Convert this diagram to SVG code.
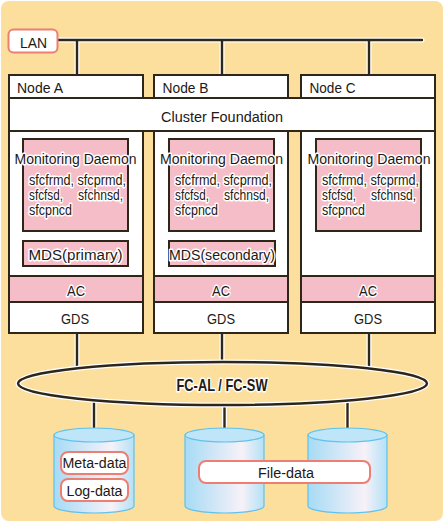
<svg xmlns="http://www.w3.org/2000/svg" width="444" height="522" viewBox="0 0 444 522">
<defs>
<linearGradient id="cyl" x1="0" y1="0" x2="1" y2="0">
<stop offset="0" stop-color="#A6DBF5"/>
<stop offset="0.72" stop-color="#F7F1F8"/>
<stop offset="1" stop-color="#B3E1F6"/>
</linearGradient>
<style>
.t{font-family:"Liberation Sans",Arial,sans-serif;font-size:15.5px;fill:#231815}
.c{text-anchor:middle}
.s{font-size:14px}
.b{font-weight:bold;font-size:16.5px}
.halo{paint-order:stroke;stroke:#fff;stroke-width:3;stroke-linejoin:round}
.box{fill:#fff;stroke:#2E2618;stroke-width:2}
.pk{fill:#F5BDC8;stroke:#2E2618;stroke-width:2}
.wl{fill:none;stroke:#fff;stroke-width:5;stroke-linecap:round}
.dl{fill:none;stroke:#2E2618;stroke-width:2.4;stroke-linecap:round}
.tag{fill:#fff;stroke:#EC7F72;stroke-width:2}
.cb{fill:url(#cyl);stroke:#5EC2ED;stroke-width:1.2}
.ct{fill:#BFE6F8;stroke:#5EC2ED;stroke-width:1.2}
</style>
</defs>
<rect x="1" y="1" width="442" height="520" rx="8" fill="#FCDE9D"/>

<g id="connectors">
<path class="wl" d="M57,40 H422 M77,40 V75 M222,40 V75 M369,40 V75 M77,333 V368.4 M222,333 V362 M369,333 V368.2 M94,400.2 V428 M224.5,405 V428 M347.5,400.6 V428"/>
<path class="dl" d="M57,40 H422 M77,40 V75 M222,40 V75 M369,40 V75 M77,333 V368.4 M222,333 V362 M369,333 V368.2 M94,400.2 V428 M224.5,405 V428 M347.5,400.6 V428"/>
</g>

<g id="lan">
<rect class="tag" x="8.5" y="29.5" width="49" height="23" rx="5"/>
<text class="t c" x="33.5" y="47.5" textLength="27" lengthAdjust="spacingAndGlyphs">LAN</text>
</g>

<g id="nodeA">
<rect class="box" x="9" y="75" width="134" height="258"/>
<text class="t" x="17" y="93" textLength="46" lengthAdjust="spacingAndGlyphs">Node A</text>
<rect class="pk" x="23" y="139" width="105" height="92"/>
<text class="t c halo" x="75.5" y="164" textLength="122" lengthAdjust="spacingAndGlyphs">Monitoring Daemon</text>
<text class="t s halo" x="29" y="185" textLength="97" lengthAdjust="spacingAndGlyphs">sfcfrmd, sfcprmd,</text>
<text class="t s halo" x="29" y="200" textLength="34" lengthAdjust="spacingAndGlyphs">sfcfsd,</text>
<text class="t s halo" x="78" y="200" textLength="45" lengthAdjust="spacingAndGlyphs">sfchnsd,</text>
<text class="t s halo" x="29" y="215" textLength="43" lengthAdjust="spacingAndGlyphs">sfcpncd</text>
<rect class="pk" x="23" y="241" width="105" height="25"/>
<text class="t c halo" x="75.5" y="259.5" textLength="94" lengthAdjust="spacingAndGlyphs">MDS(primary)</text>
<rect class="pk" x="9" y="276" width="134" height="26"/>
<text class="t c halo" x="76" y="296" textLength="18" lengthAdjust="spacingAndGlyphs">AC</text>
<rect class="box" x="9" y="302" width="134" height="31"/>
<text class="t c" x="75" y="323.5" textLength="28" lengthAdjust="spacingAndGlyphs">GDS</text>
</g>

<g id="nodeB">
<rect class="box" x="154" y="75" width="134" height="258"/>
<text class="t" x="162.5" y="93" textLength="46" lengthAdjust="spacingAndGlyphs">Node B</text>
<rect class="pk" x="169" y="139" width="105" height="92"/>
<text class="t c halo" x="221.5" y="164" textLength="123" lengthAdjust="spacingAndGlyphs">Monitoring Daemon</text>
<text class="t s halo" x="175" y="185" textLength="97" lengthAdjust="spacingAndGlyphs">sfcfrmd, sfcprmd,</text>
<text class="t s halo" x="175" y="200" textLength="34" lengthAdjust="spacingAndGlyphs">sfcfsd,</text>
<text class="t s halo" x="224" y="200" textLength="45" lengthAdjust="spacingAndGlyphs">sfchnsd,</text>
<text class="t s halo" x="175" y="215" textLength="43" lengthAdjust="spacingAndGlyphs">sfcpncd</text>
<rect class="pk" x="169" y="241" width="106" height="25"/>
<text class="t c halo" x="222" y="259.5" textLength="106" lengthAdjust="spacingAndGlyphs">MDS(secondary)</text>
<rect class="pk" x="154" y="276" width="134" height="26"/>
<text class="t c halo" x="221" y="296" textLength="18" lengthAdjust="spacingAndGlyphs">AC</text>
<rect class="box" x="154" y="302" width="134" height="31"/>
<text class="t c" x="221" y="323.5" textLength="28" lengthAdjust="spacingAndGlyphs">GDS</text>
</g>

<g id="nodeC">
<rect class="box" x="301" y="75" width="134" height="258"/>
<text class="t" x="309.5" y="93" textLength="46" lengthAdjust="spacingAndGlyphs">Node C</text>
<rect class="pk" x="316" y="139" width="105" height="92"/>
<text class="t c halo" x="369" y="164" textLength="123" lengthAdjust="spacingAndGlyphs">Monitoring Daemon</text>
<text class="t s halo" x="322" y="185" textLength="97" lengthAdjust="spacingAndGlyphs">sfcfrmd, sfcprmd,</text>
<text class="t s halo" x="322" y="200" textLength="34" lengthAdjust="spacingAndGlyphs">sfcfsd,</text>
<text class="t s halo" x="371" y="200" textLength="45" lengthAdjust="spacingAndGlyphs">sfchnsd,</text>
<text class="t s halo" x="322" y="215" textLength="43" lengthAdjust="spacingAndGlyphs">sfcpncd</text>
<rect class="pk" x="301" y="276" width="134" height="26"/>
<text class="t c halo" x="368" y="296" textLength="18" lengthAdjust="spacingAndGlyphs">AC</text>
<rect class="box" x="301" y="302" width="134" height="31"/>
<text class="t c" x="368" y="323.5" textLength="28" lengthAdjust="spacingAndGlyphs">GDS</text>
</g>

<g id="cluster">
<rect class="box" x="9" y="98" width="426" height="33"/>
<text class="t c" x="222" y="122" textLength="122" lengthAdjust="spacingAndGlyphs">Cluster Foundation</text>
</g>

<g id="fabric">
<ellipse class="wl" cx="222.5" cy="383.5" rx="204.5" ry="21.5"/>
<ellipse class="dl" cx="222.5" cy="383.5" rx="204.5" ry="21.5"/>
<text class="t c b halo" x="222" y="391" textLength="91" lengthAdjust="spacingAndGlyphs">FC-AL / FC-SW</text>
</g>

<g id="disk1">
<path class="cb" d="M54,435 V506 A40,7 0 0 0 134,506 V435 Z"/>
<ellipse class="ct" cx="94" cy="435" rx="40" ry="7"/>
<rect class="tag" x="61" y="452" width="67" height="22" rx="7"/>
<text class="t c" x="94.5" y="467.5" textLength="64" lengthAdjust="spacingAndGlyphs">Meta-data</text>
<rect class="tag" x="61" y="479" width="67" height="22" rx="7"/>
<text class="t c" x="94.5" y="495.5" textLength="56" lengthAdjust="spacingAndGlyphs">Log-data</text>
</g>

<g id="disk2">
<path class="cb" d="M185,435 V506 A39.5,7 0 0 0 264,506 V435 Z"/>
<ellipse class="ct" cx="224.5" cy="435" rx="39.5" ry="7"/>
</g>

<g id="disk3">
<path class="cb" d="M308,435 V506 A39.5,7 0 0 0 387,506 V435 Z"/>
<ellipse class="ct" cx="347.5" cy="435" rx="39.5" ry="7"/>
</g>

<g id="filedata">
<rect class="tag" x="199" y="461" width="171" height="22" rx="7"/>
<text class="t c" x="286" y="477.5" textLength="56" lengthAdjust="spacingAndGlyphs">File-data</text>
</g>
</svg>
